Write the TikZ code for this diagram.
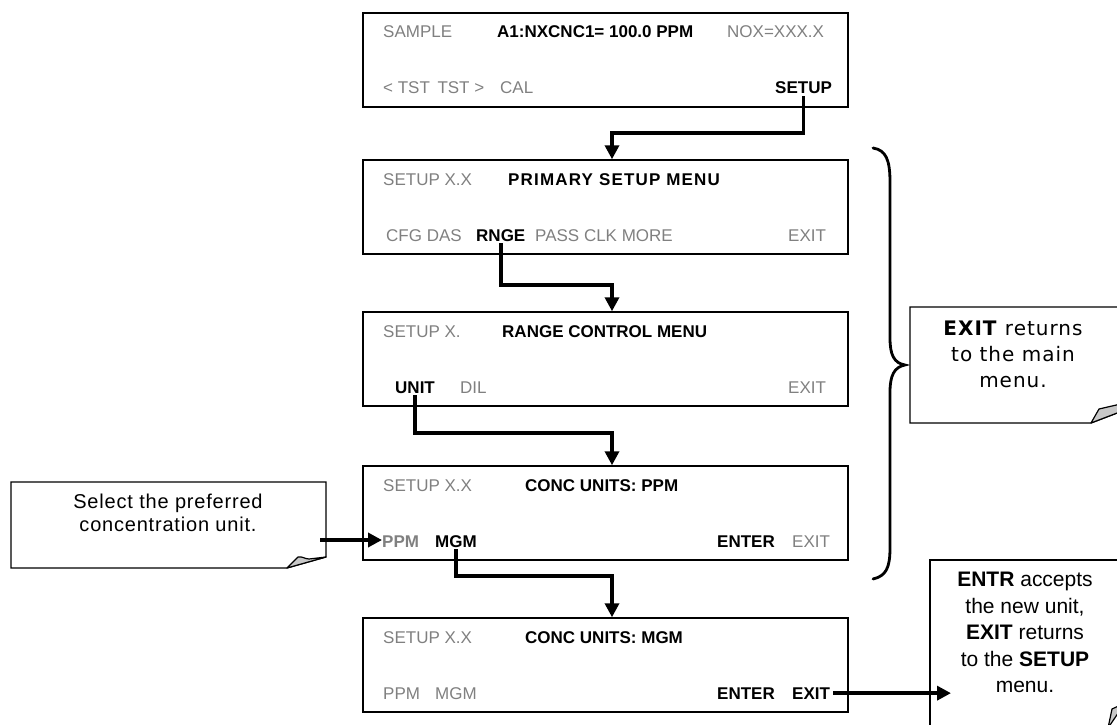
\documentclass[tikz,border=0pt]{standalone}
\usepackage{fontspec}
\setmainfont{Liberation Sans}
\newfontfamily\trk[LetterSpace=7]{Liberation Sans}
\newfontfamily\lsp[LetterSpace=4]{Liberation Sans}
\newfontfamily\verd[LetterSpace=5]{DejaVu Sans}
\usetikzlibrary{arrows.meta}
\definecolor{lcdgray}{RGB}{128,128,128}
\definecolor{foldgray}{RGB}{200,200,200}
\begin{document}
\begin{tikzpicture}[x=1pt,y=-1pt,
  lcd/.style={draw, line width=1.5pt, minimum width=485pt, minimum height=94pt, inner sep=0pt},
  gt/.style={anchor=base west, inner sep=0pt, text=lcdgray, font=\fontsize{17}{20}\selectfont},
  bt/.style={anchor=base west, inner sep=0pt, text=black, font=\fontsize{17}{20}\selectfont\bfseries},
  gbt/.style={bt, text=lcdgray},
  flow/.style={line width=3.5pt, -{Triangle[width=14pt,length=14pt]}},
  note/.style={draw, line width=1.2pt, fill=white},
  fold/.style={draw, line width=1.2pt, fill=foldgray, line join=round},
  notetext/.style={anchor=north, align=center, inner sep=0pt},
]
\useasboundingbox (0,0) rectangle (1117,725);

% ---------- LCD boxes ----------
\node[lcd] (b1) at (605.5,60) {};
\node[lcd] (b2) at (605.5,207) {};
\node[lcd] (b3) at (605.5,359) {};
\node[lcd] (b4) at (605.5,513) {};
\node[lcd] (b5) at (605.5,665) {};

% box 1
\node[gt] (t1a) at (383,38) {SAMPLE};
\node[bt] (t1b) at (497,38) {A1:NXCNC1= 100.0 PPM};
\node[gt] (t1c) at (727,38) {NOX=XXX.X};
\node[gt] (t1d) at (383,94) {< TST\ \,TST >};
\node[gt] (t1e) at (500,94) {CAL};
\node[bt] (setup1) at (775,94) {SETUP};

% box 2
\node[gt] (t2a) at (383,185) {SETUP X.X};
\node[bt, font=\trk\fontsize{17}{20}\selectfont\bfseries] (t2b) at (508,185) {PRIMARY SETUP MENU};
\node[gt] (t2c) at (386,241) {CFG DAS};
\node[bt] (rnge) at (476,241) {RNGE};
\node[gt] (t2d) at (535,241) {PASS CLK MORE};
\node[gt] (t2e) at (788,241) {EXIT};

% box 3
\node[gt] (t3a) at (383,337) {SETUP X.};
\node[bt] (t3b) at (502,337) {RANGE CONTROL MENU};
\node[bt] (unit) at (395,393) {UNIT};
\node[gt] (t3c) at (460,393) {DIL};
\node[gt] (t3d) at (788,393) {EXIT};

% box 4
\node[gt] (t4a) at (383,491) {SETUP X.X};
\node[bt] (t4b) at (525,491) {CONC UNITS: PPM};
\node[gbt] (ppm4) at (382,547) {PPM};
\node[bt] (mgm4) at (435,547) {MGM};
\node[bt] (t4c) at (717,547) {ENTER};
\node[gt] (t4d) at (792,547) {EXIT};

% box 5
\node[gt] (t5a) at (383,643) {SETUP X.X};
\node[bt] (t5b) at (525,643) {CONC UNITS: MGM};
\node[gt] (t5c) at (383,699) {PPM};
\node[gt] (t5d) at (435,699) {MGM};
\node[bt] (t5e) at (717,699) {ENTER};
\node[bt] (exit5) at (792,699) {EXIT};

% ---------- flow connectors ----------
\coordinate (j1) at (612,133);
\coordinate (j2) at (612,285);
\coordinate (j3) at (612,433);
\coordinate (j4) at (612,576);
\draw[flow] ([yshift=-2pt]setup1.south) |- (j1) -- (j1 |- b2.north);
\draw[flow] ([yshift=-2pt]rnge.south) |- (j2) -- (j2 |- b3.north);
\draw[flow] ([yshift=-2pt]unit.south) |- (j3) -- (j3 |- b4.north);
\draw[flow] ([yshift=-2pt]mgm4.south) |- (j4) -- (j4 |- b5.north);

% ---------- brace ----------
\draw[line width=2.8pt, line cap=round] (873,148) .. controls (886,150) and (890,160) .. (890,182)
  -- (890,338) .. controls (890,355) and (894,363) .. (905,365)
  .. controls (894,367) and (890,376) .. (890,392)
  -- (890,548) .. controls (890,568) and (886,576) .. (873,579);

% ---------- callout: EXIT returns ----------
\draw[note] (1125,307) -- (910,307) -- (910,423) -- (1091,423) -- (1125,410);
\draw[fold] (1091,423) -- (1099,409) -- (1125,403) -- (1125,410) -- cycle;
\node[notetext, font=\verd\fontsize{20}{26}\selectfont] (n2) at (1013,321)
  {\textbf{EXIT} returns\\to the main\\menu.};

% ---------- callout: Select the preferred ----------
\draw[note] (11,482) -- (326,482) -- (326,557) -- (287,568) -- (11,568) -- cycle;
\draw[fold] (287,568) -- (298,557) .. controls (302,556) and (305,559) .. (309,559) -- (326,557) -- cycle;
\node[notetext, font=\lsp\fontsize{20}{23}\selectfont] (n1) at (168,494)
  {Select the preferred\\concentration unit.};
\coordinate (c5) at (320,540);
\draw[flow] (c5) -- (c5 -| ppm4.west);

% ---------- callout: ENTR accepts ----------
\draw[note] (1125,560) -- (930,560) -- (930,730);
\draw[fold] (1108,728) -- (1112,709) -- (1125,703) -- cycle;
\node[notetext, font=\fontsize{21}{26.5}\selectfont] (n3) at (1025,572)
  {\textbf{ENTR} accepts\\the new unit,\\\textbf{EXIT} returns\\to the \textbf{SETUP}\\menu.};
\coordinate (tip) at (948,0);
\draw[flow] ([xshift=3pt]exit5.east) -- ([xshift=3pt]exit5.east -| tip);
\end{tikzpicture}
\end{document}
